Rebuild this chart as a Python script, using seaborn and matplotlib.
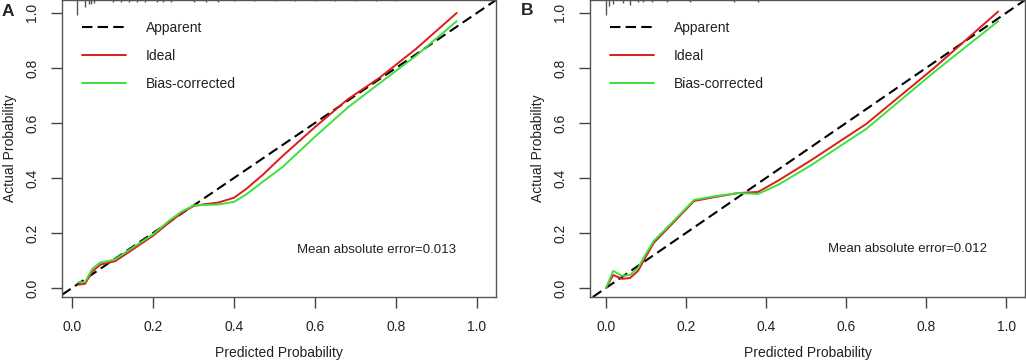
## Calibration curves (apparent / ideal / bias-corrected) for two models.
import matplotlib
matplotlib.use("Agg")
import matplotlib.pyplot as plt
import seaborn as sns
import numpy as np

sns.set_style("ticks")
plt.rcParams['font.family'] = ['Liberation Sans', 'DejaVu Sans']

# Panel A values.
a_x = [0.015, 0.032, 0.05, 0.07, 0.09, 0.106, 0.15, 0.20, 0.24, 0.27, 0.30,
       0.33, 0.36, 0.40, 0.43, 0.47, 0.52, 0.60, 0.68, 0.76, 0.85, 0.95]
a_ideal = [0.012, 0.015, 0.06, 0.085, 0.092, 0.097, 0.14, 0.19, 0.238, 0.272, 0.298,
           0.305, 0.310, 0.328, 0.36, 0.41, 0.48, 0.585, 0.685, 0.765, 0.87, 1.0]
a_bias = [0.02, 0.022, 0.07, 0.093, 0.098, 0.104, 0.147, 0.195, 0.245, 0.277, 0.300,
          0.302, 0.303, 0.313, 0.34, 0.385, 0.44, 0.55, 0.655, 0.745, 0.845, 0.97]
a_rug_x = [0.012, 0.032, 0.042, 0.047, 0.054, 0.10, 0.12, 0.14, 0.16, 0.18, 0.21,
           0.225, 0.245, 0.30, 0.33, 0.36, 0.40, 0.45, 0.50, 0.55, 0.60, 0.65, 0.70, 0.75, 0.80]
a_rug_h = [0.05, 0.024, 0.012, 0.012, 0.01, 0.008, 0.008, 0.008, 0.008, 0.008, 0.008,
           0.008, 0.008, 0.006, 0.006, 0.006, 0.005, 0.005, 0.005, 0.005, 0.005, 0.005, 0.005, 0.005, 0.005]
a_mae = 0.013

# Panel B values.
b_x = [0.0, 0.018, 0.04, 0.06, 0.08, 0.10, 0.12, 0.17, 0.22, 0.27, 0.33, 0.38,
       0.43, 0.51, 0.65, 0.82, 0.98]
b_ideal = [0.0, 0.047, 0.033, 0.036, 0.062, 0.115, 0.165, 0.24, 0.316, 0.33, 0.345, 0.349,
           0.39, 0.462, 0.596, 0.80, 1.005]
b_bias = [0.0, 0.062, 0.044, 0.047, 0.073, 0.125, 0.172, 0.245, 0.32, 0.333, 0.345, 0.342,
          0.375, 0.444, 0.578, 0.785, 0.97]
b_rug_x = [0.0, 0.008, 0.018, 0.043, 0.06, 0.08, 0.093, 0.115, 0.152, 0.21, 0.32, 0.38]
b_rug_h = [0.05, 0.02, 0.013, 0.01, 0.016, 0.008, 0.008, 0.008, 0.006, 0.006, 0.006, 0.006]
b_mae = 0.012

labels = ['Apparent', 'Ideal', 'Bias-corrected']
red, green = '#dd1c1c', '#3ee03e'
text_col = '#222222'
fs = 9.5

fig = plt.figure(figsize=(10.26, 3.62), dpi=100)
ax_a = fig.add_axes([62 / 1026, 1 - 297 / 362, 434 / 1026, 297 / 362])
ax_b = fig.add_axes([590 / 1026, 1 - 297 / 362, 435 / 1026, 297 / 362])

panels = [
    (ax_a, 'A', a_x, a_ideal, a_bias, a_rug_x, a_rug_h, a_mae, (-0.025, 1.047), (0.555, 0.137), (-0.125, 0.96)),
    (ax_b, 'B', b_x, b_ideal, b_bias, b_rug_x, b_rug_h, b_mae, (-0.04, 1.047), (0.555, 0.142), (-0.145, 0.963)),
]

for ax, letter, x, ideal, bias, rug_x, rug_h, mae, xlim, mae_pos, let_pos in panels:
    ax.axline((0, 0), slope=1, color='black', lw=1.5, dashes=(5, 2.5), label=labels[0])
    sns.lineplot(x=x, y=ideal, ax=ax, color=red, lw=1.4, sort=False, estimator=None, label=labels[1])
    sns.lineplot(x=x, y=bias, ax=ax, color=green, lw=1.4, sort=False, estimator=None, label=labels[2])
    # rug of predicted probabilities along the top
    ax.vlines(rug_x, [1 - h for h in rug_h], 1, transform=ax.get_xaxis_transform(),
              color='#555555', lw=1.0)

    ax.set_xlim(*xlim)
    ax.set_ylim(-0.033, 1.047)
    ticks = np.arange(0, 1.01, 0.2)
    ax.set_xticks(ticks)
    ax.set_yticks(ticks)
    ax.set_xticklabels([f'{t:.1f}' for t in ticks])
    ax.set_yticklabels([f'{t:.1f}' for t in ticks], rotation=90, va='center')
    ax.tick_params(length=8, width=1.0, color='#444444', labelsize=fs + 0.5, labelcolor=text_col, pad=8.5)
    for s in ax.spines.values():
        s.set_color('#555555')
        s.set_linewidth(1.0)

    ax.set_xlabel('Predicted Probability', fontsize=fs + 0.5, color=text_col, va='center')
    ax.xaxis.set_label_coords(0.5, -0.189)
    ax.set_ylabel('Actual Probability', fontsize=fs + 0.5, color=text_col, va='center')
    ax.yaxis.set_label_coords(-0.12, 0.5)

    ax.legend(loc='upper left', bbox_to_anchor=(0.046, 0.93), frameon=False, fontsize=fs + 0.5,
              handlelength=3.2, handletextpad=1.4, labelspacing=1.0, borderpad=0,
              borderaxespad=0, labelcolor=text_col)

    ax.text(mae_pos[0], mae_pos[1], f'Mean absolute error={mae:.3f}', fontsize=fs,
            color=text_col, va='center', ha='left')
    ax.text(let_pos[0], let_pos[1], letter, transform=ax.transAxes, fontsize=12.5,
            fontweight='bold', ha='center', va='center')

plt.savefig('out.png', dpi=100)
